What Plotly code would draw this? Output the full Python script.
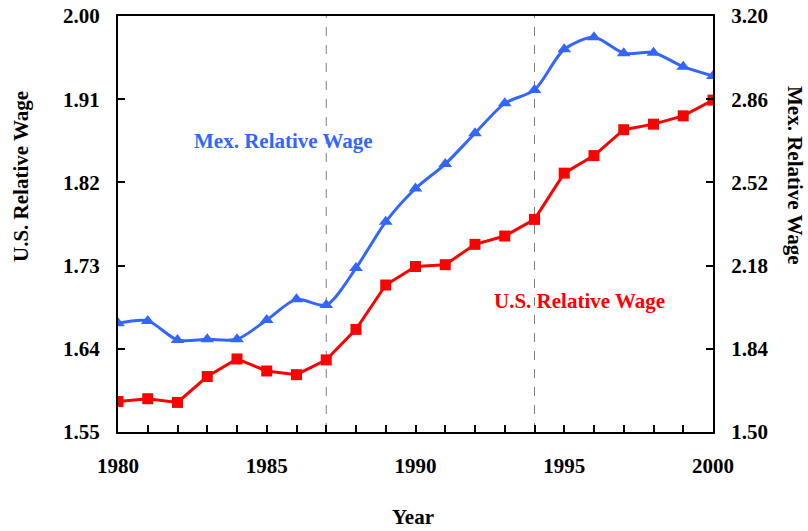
import plotly.graph_objects as go

years = list(range(1980, 2001))
us_wage = [1.583, 1.586, 1.582, 1.610, 1.629, 1.616, 1.612, 1.628, 1.661, 1.709,
           1.729, 1.731, 1.753, 1.762, 1.780, 1.830, 1.849, 1.877, 1.883, 1.892, 1.909]
mex_wage = [1.944, 1.954, 1.876, 1.879, 1.879, 1.958, 2.042, 2.019, 2.170, 2.359,
            2.495, 2.595, 2.721, 2.843, 2.898, 3.064, 3.113, 3.048, 3.050, 2.993, 2.955]
event_years = [1987, 1994]
left_ticks = [1.55, 1.64, 1.73, 1.82, 1.91, 2.00]
right_ticks = [1.50, 1.84, 2.18, 2.52, 2.86, 3.20]

FONT = "Liberation Serif, Times New Roman, serif"
BLUE = "#3366FF"
RED = "#FF0000"

fig = go.Figure()
fig.add_trace(go.Scatter(
    x=years, y=mex_wage, yaxis="y2", mode="lines+markers",
    line=dict(color=BLUE, width=3, shape="spline", smoothing=0.8),
    marker=dict(symbol="triangle-up", size=12, color=BLUE),
    name="Mex. Relative Wage", showlegend=False))
fig.add_trace(go.Scatter(
    x=years, y=us_wage, mode="lines+markers",
    line=dict(color=RED, width=3),
    marker=dict(symbol="square", size=11, color=RED),
    name="U.S. Relative Wage", showlegend=False))

for yr in event_years:
    fig.add_shape(type="line", xref="x", yref="paper", x0=yr, x1=yr, y0=0, y1=1,
                  line=dict(color="#808080", width=1, dash="dash"), layer="below")

tickfont = dict(family=FONT, size=21, color="black", weight="bold")

fig.update_layout(
    width=808, height=531,
    margin=dict(l=118, r=95, t=16, b=99, autoexpand=False),
    paper_bgcolor="white", plot_bgcolor="white",
    xaxis=dict(range=[1980, 2000], tickmode="array", tickvals=[1980, 1985, 1990, 1995, 2000],
               ticks="inside", ticklen=7, tickwidth=1.5, tickcolor="black",
               minor=dict(dtick=1, ticks="inside", ticklen=7, tickwidth=1.5, tickcolor="black"),
               showline=True, linecolor="black", linewidth=2, mirror=True, automargin=False,
               showgrid=False, zeroline=False, tickfont=tickfont, ticklabelstandoff=14,
               ticklabeloverflow="allow"),
    yaxis=dict(range=[1.55, 2.00], tickmode="array", tickvals=left_ticks,
               ticktext=[f"{v:.2f}" for v in left_ticks], automargin=False,
               ticks="inside", ticklen=7, tickwidth=1.5, tickcolor="black",
               showline=True, linecolor="black", linewidth=2, mirror=True,
               showgrid=False, zeroline=False, tickfont=tickfont, ticklabelstandoff=12,
               ticklabeloverflow="allow"),
    yaxis2=dict(range=[1.50, 3.20], overlaying="y", side="right", tickmode="array",
                tickvals=right_ticks, ticktext=[f"{v:.2f}" for v in right_ticks],
                ticks="inside", ticklen=7, tickwidth=1.5, tickcolor="black", automargin=False,
                showline=True, linecolor="black", linewidth=2,
                showgrid=False, zeroline=False, tickfont=tickfont, ticklabelstandoff=12,
                ticklabeloverflow="allow"),
)

titlefont = dict(family=FONT, size=21, color="black", weight="bold")
fig.add_annotation(text="U.S. Relative Wage", xref="paper", yref="paper",
                   x=(21 - 118) / 595, y=(432 - 177) / 416, textangle=-90,
                   showarrow=False, font=titlefont, xanchor="center", yanchor="middle")
fig.add_annotation(text="Mex. Relative Wage", xref="paper", yref="paper",
                   x=(795 - 118) / 595, y=(432 - 175) / 416, textangle=90,
                   showarrow=False, font=titlefont, xanchor="center", yanchor="middle")
fig.add_annotation(text="Year", xref="paper", yref="paper",
                   x=(413 - 118) / 595, y=(432 - 517) / 416,
                   showarrow=False, font=titlefont, xanchor="center", yanchor="middle")
fig.add_annotation(text="Mex. Relative Wage", xref="paper", yref="paper",
                   x=(283 - 118) / 595, y=(432 - 141) / 416,
                   showarrow=False, font=dict(family=FONT, size=21, color=BLUE, weight="bold"),
                   xanchor="center", yanchor="middle")
fig.add_annotation(text="U.S. Relative Wage", xref="paper", yref="paper",
                   x=(579 - 118) / 595, y=(432 - 301) / 416,
                   showarrow=False, font=dict(family=FONT, size=21, color=RED, weight="bold"),
                   xanchor="center", yanchor="middle")

fig.write_html("out.html", config={"displayModeBar": False},
               post_script="document.body.style.margin='0';")
